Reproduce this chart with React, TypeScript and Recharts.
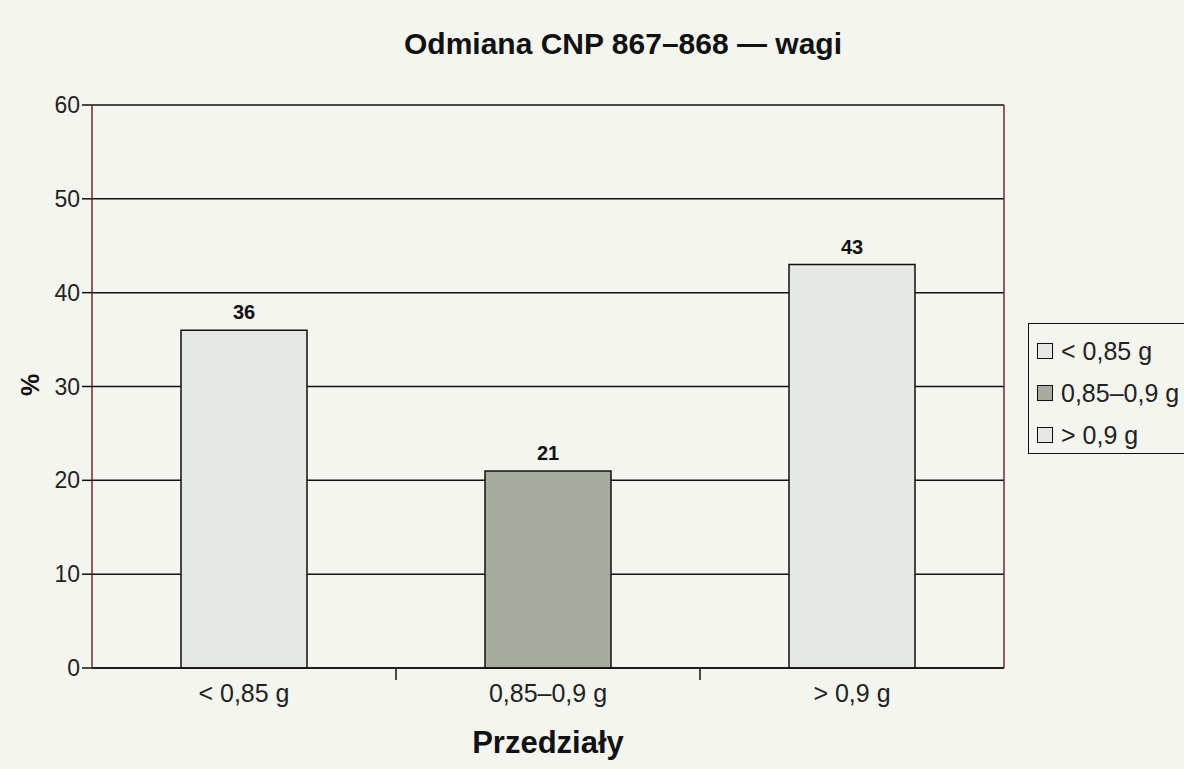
import React from 'react'
import { BarChart, Bar, XAxis, YAxis, CartesianGrid, Cell, LabelList } from 'recharts'

const categories = ['< 0,85 g', '0,85–0,9 g', '> 0,9 g']
const percents = [36, 21, 43]
const barColors = ['#e6e8e4', '#a8aca0', '#e6e8e4']
const yTicks = [0, 10, 20, 30, 40, 50, 60]

const data = categories.map((name, i) => ({ name, value: percents[i] }))

const FONT = '"Liberation Sans", Arial, sans-serif'

// category label plus Excel-style tick mark between categories
function XTick(props: any) {
  const { x, y, payload, index, width, visibleTicksCount } = props
  const band = width / visibleTicksCount
  return (
    <g>
      {index < visibleTicksCount - 1 && (
        <line x1={x + band / 2} x2={x + band / 2} y1={y - 8} y2={y + 4} stroke="#111" strokeWidth={1.5} />
      )}
      <text x={x} y={y + 26} textAnchor="middle" fontSize={25} fill="#222" fontFamily={FONT}>
        {payload.value}
      </text>
    </g>
  )
}

function LegendBox() {
  return (
    <div
      style={{
        position: 'absolute',
        left: 1028,
        top: 323,
        width: 170,
        height: 131,
        border: '1.5px solid #111',
        boxSizing: 'border-box',
        padding: '6px 0 0 8px',
        fontFamily: FONT,
        fontSize: 25,
        color: '#222',
      }}
    >
      {categories.map((c, i) => (
        <div key={c} style={{ display: 'flex', alignItems: 'center', height: 42 }}>
          <span
            style={{
              display: 'inline-block',
              width: 14,
              height: 14,
              border: '1.5px solid #111',
              background: barColors[i],
              marginRight: 8,
            }}
          />
          {c}
        </div>
      ))}
    </div>
  )
}

export default function App() {
  return (
    <div style={{ position: 'absolute', left: 0, top: 0, width: 1184, height: 769, overflow: 'hidden', background: '#f5f5f0' }}>
      <BarChart
        width={1184}
        height={769}
        data={data}
        margin={{ top: 105, right: 179, bottom: 0, left: 0 }}
        style={{ position: 'absolute', left: 0, top: 0 }}
      >
        <CartesianGrid vertical={false} stroke="#111" strokeWidth={1.5} />
        <XAxis
          dataKey="name"
          axisLine={{ stroke: '#111', strokeWidth: 1.5 }}
          tickLine={false}
          tick={<XTick />}
          interval={0}
          height={101}
        />
        <YAxis
          domain={[0, 60]}
          ticks={yTicks}
          width={92}
          axisLine={{ stroke: '#6a2a30', strokeWidth: 1.5 }}
          tickLine={{ stroke: '#111', strokeWidth: 1.5 }}
          tickSize={10}
          tick={{ fontSize: 23, fill: '#222', fontFamily: FONT }}
        />
        <YAxis
          yAxisId="r"
          orientation="right"
          domain={[0, 60]}
          ticks={yTicks}
          width={1}
          tick={false}
          tickLine={false}
          axisLine={{ stroke: '#6a2a30', strokeWidth: 1.5 }}
        />
        <Bar dataKey="value" barSize={126} stroke="#111" strokeWidth={1.5} isAnimationActive={false}>
          {data.map((d, i) => (
            <Cell key={d.name} fill={barColors[i]} />
          ))}
          <LabelList
            dataKey="value"
            position="top"
            offset={11}
            style={{ fontSize: 20, fontWeight: 'bold', fill: '#111', fontFamily: FONT }}
          />
        </Bar>
      </BarChart>
      <div
        style={{
          position: 'absolute',
          left: 323,
          width: 600,
          top: 27,
          textAlign: 'center',
          fontFamily: FONT,
          fontWeight: 'bold',
          fontSize: 30,
          color: '#111',
        }}
      >
        Odmiana CNP 867–868 — wagi
      </div>
      <div
        style={{
          position: 'absolute',
          left: 30,
          top: 385,
          transform: 'translate(-50%, -50%) rotate(-90deg)',
          fontFamily: FONT,
          fontWeight: 'bold',
          fontSize: 25,
          color: '#111',
        }}
      >
        %
      </div>
      <div
        style={{
          position: 'absolute',
          left: 398,
          width: 300,
          top: 725,
          textAlign: 'center',
          fontFamily: FONT,
          fontWeight: 'bold',
          fontSize: 31,
          color: '#111',
        }}
      >
        Przedziały
      </div>
      <LegendBox />
    </div>
  )
}
